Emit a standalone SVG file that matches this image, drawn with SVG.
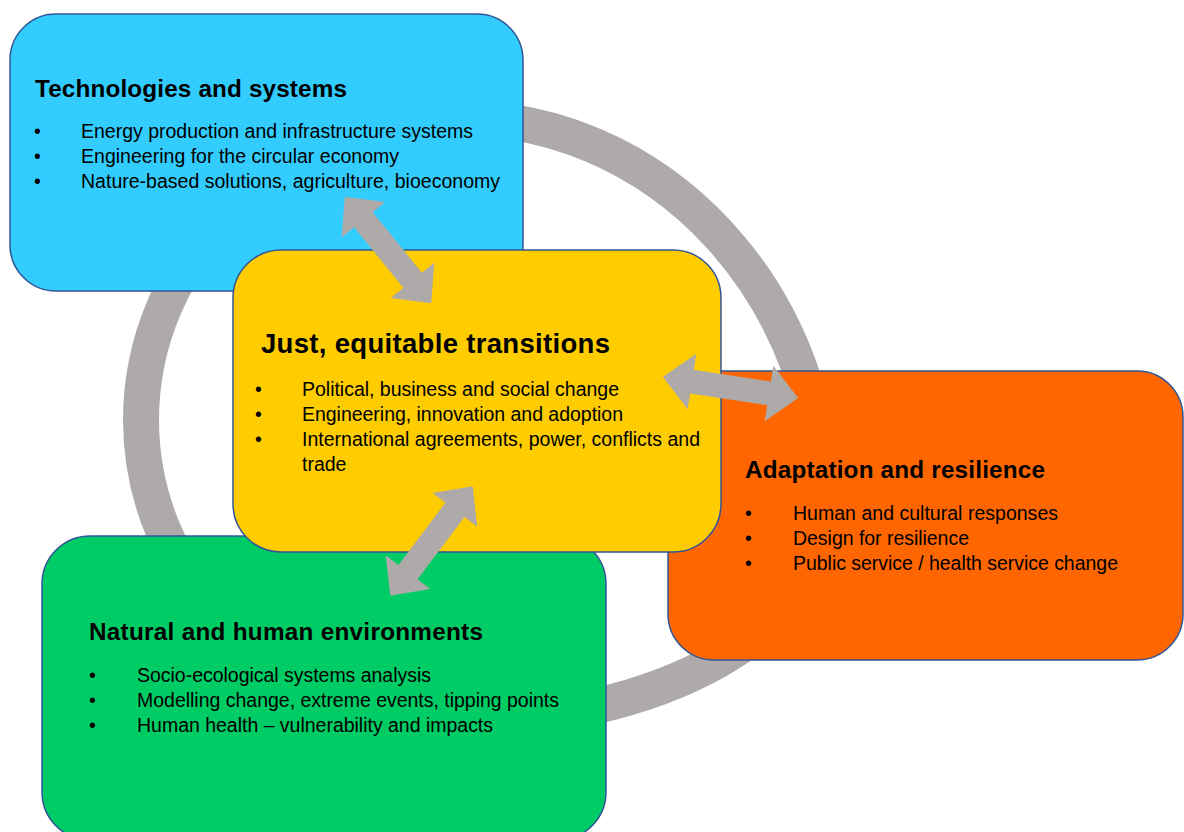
<svg xmlns="http://www.w3.org/2000/svg" width="1184" height="832" viewBox="0 0 1184 832">
<style>
.box{stroke:#2F5597;stroke-width:1.5}
.ttl{font-family:"Liberation Sans",Arial,sans-serif;font-weight:bold;font-size:24.3px;fill:#000}
.big{font-size:27.5px}
.itm{font-family:"Liberation Sans",Arial,sans-serif;font-size:19.5px;fill:#000}
.arr{fill:#AEAAA9}
</style>
<defs>
<polygon id="dbl" points="-68.5,0 -39,-28 -39,-12 39,-12 39,-28 68.5,0 39,28 39,12 -39,12 -39,28"/>
</defs>
<rect width="1184" height="832" fill="#fff"/>
<g id="ring">
<path d="M 460 118 A 365 395 0 0 1 825 513 A 365 208 0 0 1 460 721 A 319 301 0 0 1 141 420 A 319 302 0 0 1 460 118 Z" fill="none" stroke="#AEAAAA" stroke-width="36"/>
</g>
<g id="technologies">
<rect class="box" x="10" y="14" width="513" height="277" rx="46" fill="#33CCFF"/>
<text class="ttl" x="35" y="97" textLength="312">Technologies and systems</text>
<text class="itm" x="34" y="138">•</text><text class="itm" x="81" y="138" textLength="392">Energy production and infrastructure systems</text>
<text class="itm" x="34" y="163">•</text><text class="itm" x="81" y="163" textLength="318">Engineering  for the circular economy</text>
<text class="itm" x="34" y="188">•</text><text class="itm" x="81" y="188" textLength="419">Nature-based solutions, agriculture, bioeconomy</text>
</g>
<g id="natural">
<rect class="box" x="42" y="536" width="564" height="304" rx="48" fill="#00CC66"/>
<text class="ttl" x="89" y="640" textLength="394">Natural and human environments</text>
<text class="itm" x="89" y="682">•</text><text class="itm" x="137" y="682" textLength="294">Socio-ecological systems analysis</text>
<text class="itm" x="89" y="707">•</text><text class="itm" x="137" y="707" textLength="422">Modelling  change, extreme events, tipping  points</text>
<text class="itm" x="89" y="732">•</text><text class="itm" x="137" y="732" textLength="356">Human health – vulnerability  and impacts</text>
</g>
<g id="adaptation">
<rect class="box" x="668" y="371" width="515" height="289" rx="46" fill="#FF6600"/>
<text class="ttl" x="745" y="478" textLength="300">Adaptation and resilience</text>
<text class="itm" x="745" y="520">•</text><text class="itm" x="793" y="520" textLength="265">Human and cultural responses</text>
<text class="itm" x="745" y="545">•</text><text class="itm" x="793" y="545" textLength="176">Design for resilience</text>
<text class="itm" x="745" y="570">•</text><text class="itm" x="793" y="570" textLength="325">Public service / health service change</text>
</g>
<g id="just">
<rect class="box" x="233" y="250" width="488" height="302" rx="48" fill="#FFCC00"/>
<text class="ttl big" x="261" y="353" textLength="349">Just, equitable transitions</text>
<text class="itm" x="255" y="396">•</text><text class="itm" x="302" y="396" textLength="317">Political, business and social change</text>
<text class="itm" x="255" y="421">•</text><text class="itm" x="302" y="421" textLength="321">Engineering, innovation and adoption</text>
<text class="itm" x="255" y="446">•</text><text class="itm" x="302" y="446" textLength="398">International agreements, power, conflicts and</text>
<text class="itm" x="302" y="471">trade</text>
</g>
<g id="connectors">
<use href="#dbl" class="arr" transform="translate(388,250) rotate(50.9)"/>
<use href="#dbl" class="arr" transform="translate(730.5,387.5) rotate(8.8)"/>
<use href="#dbl" class="arr" transform="translate(431.5,541) rotate(-53)"/>
</g>
</svg>
